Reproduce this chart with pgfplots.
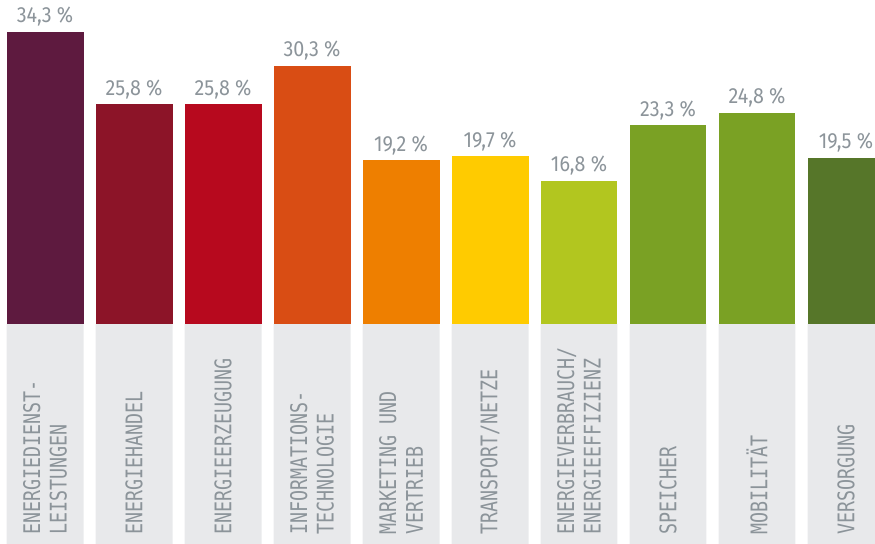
\documentclass[border=0pt]{standalone}
\usepackage{fontspec}
\setmainfont{Fira Sans}
\newfontfamily\valfont[FakeStretch=0.9]{Fira Sans}
\newfontfamily\catfont[FakeStretch=0.8]{DejaVu Sans Mono}
\usepackage{pgfplots}
\pgfplotsset{compat=1.18}

\definecolor{c1}{HTML}{5E1A3F}
\definecolor{c2}{HTML}{8C1428}
\definecolor{c3}{HTML}{B7091E}
\definecolor{c4}{HTML}{D94D14}
\definecolor{c5}{HTML}{EE7F00}
\definecolor{c6}{HTML}{FFCB00}
\definecolor{c7}{HTML}{B2C61F}
\definecolor{c8}{HTML}{7AA124}
\definecolor{c9}{HTML}{7AA124}
\definecolor{c10}{HTML}{567629}
\definecolor{boxgrey}{HTML}{E8E9EB}
\definecolor{txtgrey}{HTML}{8C949A}

\pgfplotsset{
  valbar/.style={
    fill=#1, draw=none, bar shift=0pt,
    nodes near coords={\pgfmathprintnumber[fixed,fixed zerofill,precision=1,use comma,assume math mode=true]{\pgfplotspointmeta}~\%},
    every node near coord/.append style={
      font=\valfont\fontsize{22}{26}\selectfont, text=txtgrey,
      anchor=base, inner sep=0pt, yshift=9bp}
  }
}

\begin{document}
\begin{tikzpicture}
\begin{axis}[
    name=ax,
    scale only axis,
    width=875bp, height=544bp,
    xmin=-0.506, xmax=9.326,
    ymin=-25.82, ymax=38.03,
    ybar, bar width=0.865,
    axis on top,
    axis line style={draw=none},
    ytick=\empty,
    xtick={0,...,9},
    major tick length=0pt,
    xticklabels={{ENERGIEDIENST-\\LEISTUNGEN},ENERGIEHANDEL,ENERGIEERZEUGUNG,
      {INFORMATIONS-\\TECHNOLOGIE},{MARKETING UND\\VERTRIEB},TRANSPORT/NETZE,
      {ENERGIEVERBRAUCH/\\ENERGIEEFFIZIENZ},SPEICHER,MOBILITÄT,VERSORGUNG},
    xticklabel style={rotate=90, anchor=west, align=left, inner sep=0pt,
      font=\catfont\fontsize{23}{26.7}\selectfont, text=txtgrey},
    xticklabel shift={-9bp},
]
\addplot[fill=boxgrey, draw=none, bar shift=0pt] coordinates {
  (0,-25.8) (1,-25.8) (2,-25.8) (3,-25.8) (4,-25.8)
  (5,-25.8) (6,-25.8) (7,-25.8) (8,-25.8) (9,-25.8)};
\addplot[valbar=c1]  coordinates {(0,34.3)};
\addplot[valbar=c2]  coordinates {(1,25.8)};
\addplot[valbar=c3]  coordinates {(2,25.8)};
\addplot[valbar=c4]  coordinates {(3,30.3)};
\addplot[valbar=c5]  coordinates {(4,19.2)};
\addplot[valbar=c6]  coordinates {(5,19.7)};
\addplot[valbar=c7]  coordinates {(6,16.8)};
\addplot[valbar=c8]  coordinates {(7,23.3)};
\addplot[valbar=c9]  coordinates {(8,24.8)};
\addplot[valbar=c10] coordinates {(9,19.5)};
\end{axis}
\pgfresetboundingbox
\path[use as bounding box] (ax.south west) rectangle (ax.north east);
\end{tikzpicture}
\end{document}
